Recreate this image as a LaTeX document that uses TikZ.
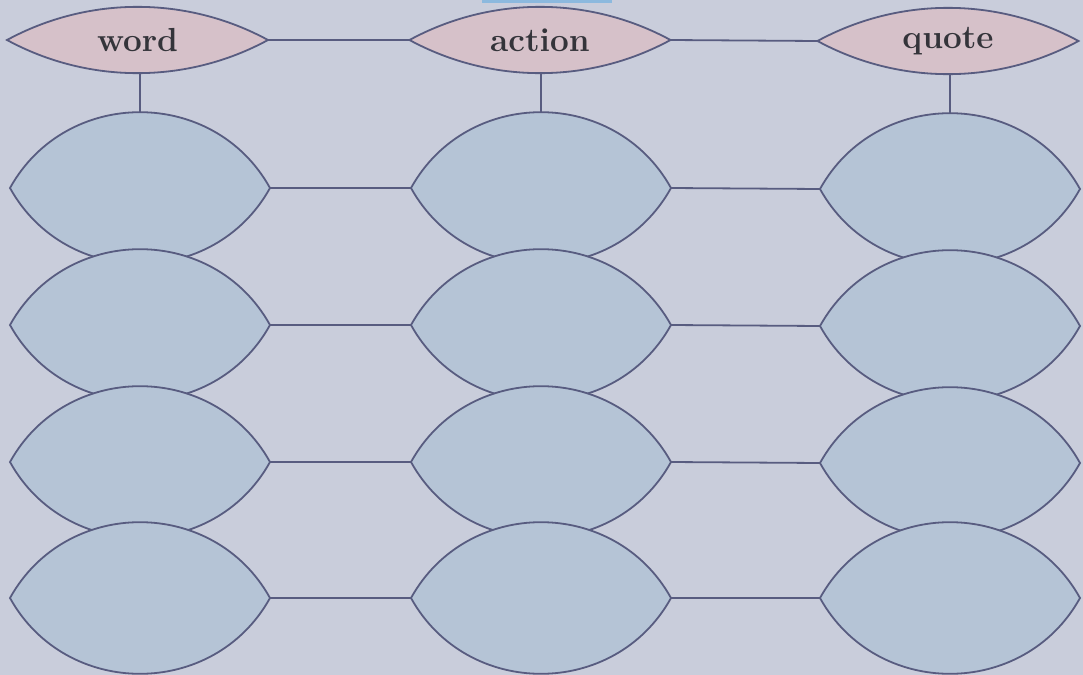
\documentclass[tikz,border=0pt]{standalone}
\usepackage{xcolor}
\usepackage{tikz}
\usetikzlibrary{calc}

\definecolor{paper}{RGB}{201,205,219}
\definecolor{lensfill}{RGB}{181,196,214}
\definecolor{headfill}{RGB}{214,193,201}
\definecolor{inkline}{RGB}{88,92,128}
\definecolor{inktext}{RGB}{52,52,58}
\definecolor{topbar}{RGB}{140,185,222}

% a pointed lens drawn round an empty box node
\newcommand{\lens}[2]{%
  \node[lensbox] (#1) at (#2) {};
  \filldraw[lensline, fill=lensfill]
    (#1.west) to[out=61,in=119,looseness=1.14] (#1.east)
    to[out=-119,in=-61,looseness=1.14] (#1.west) -- cycle;
}
\newcommand{\headlens}[3]{%
  \node[headbox] (#1) at (#2) {};
  \filldraw[lensline, fill=headfill]
    (#1.west) to[out=28.5,in=151.5,looseness=0.91] (#1.east)
    to[out=-151.5,in=-28.5,looseness=0.91] (#1.west) -- cycle;
  \node[headtext] (#1-txt) at (#1) {#3};
}

\begin{document}
\begin{tikzpicture}[
  x=0.75pt, y=0.75pt,
  lensbox/.style={inner sep=0pt, outer sep=0pt,
                  minimum width=195pt, minimum height=114pt},
  headbox/.style={inner sep=0pt, outer sep=0pt,
                  minimum width=195.75pt, minimum height=49.5pt},
  headtext/.style={inner sep=0pt, text=inktext,
                   font=\fontsize{25}{29}\selectfont\bfseries},
  lensline/.style={draw=inkline, line width=1.35pt, line join=miter},
  link/.style={draw=inkline, line width=1.35pt}
]
  \useasboundingbox (0,0) rectangle (1083,-675);
  \fill[paper] (0,0) rectangle (1083,-675);
  \fill[topbar] (482,0) rectangle (612,-3);

  % header row
  \headlens{word}{137.5,-40}{word}
  \headlens{action}{540,-40}{action}
  \headlens{quote}{948,-41}{quote}

  % rows of empty lenses, upper ones first
  \lens{w1}{140,-188}
  \lens{a1}{541,-188}
  \lens{q1}{950,-189}
  \lens{w2}{140,-325}
  \lens{a2}{541,-325}
  \lens{q2}{950,-326}
  \lens{w3}{140,-462}
  \lens{a3}{541,-462}
  \lens{q3}{950,-463}
  \lens{w4}{140,-598}
  \lens{a4}{541,-598}
  \lens{q4}{950,-598}

  \draw[link] (word.east) -- (action.west);
  \draw[link] (action.east) -- (quote.west);
  \draw[link] (w1.north |- word.south) -- (w1.north);
  \draw[link] (a1.north |- action.south) -- (a1.north);
  \draw[link] (q1.north |- quote.south) -- (q1.north);

  \draw[link] (w1.east) -- (a1.west);
  \draw[link] (a1.east) -- (q1.west);
  \draw[link] (w2.east) -- (a2.west);
  \draw[link] (a2.east) -- (q2.west);
  \draw[link] (w3.east) -- (a3.west);
  \draw[link] (a3.east) -- (q3.west);
  \draw[link] (w4.east) -- (a4.west);
  \draw[link] (a4.east) -- (q4.west);
\end{tikzpicture}
\end{document}
